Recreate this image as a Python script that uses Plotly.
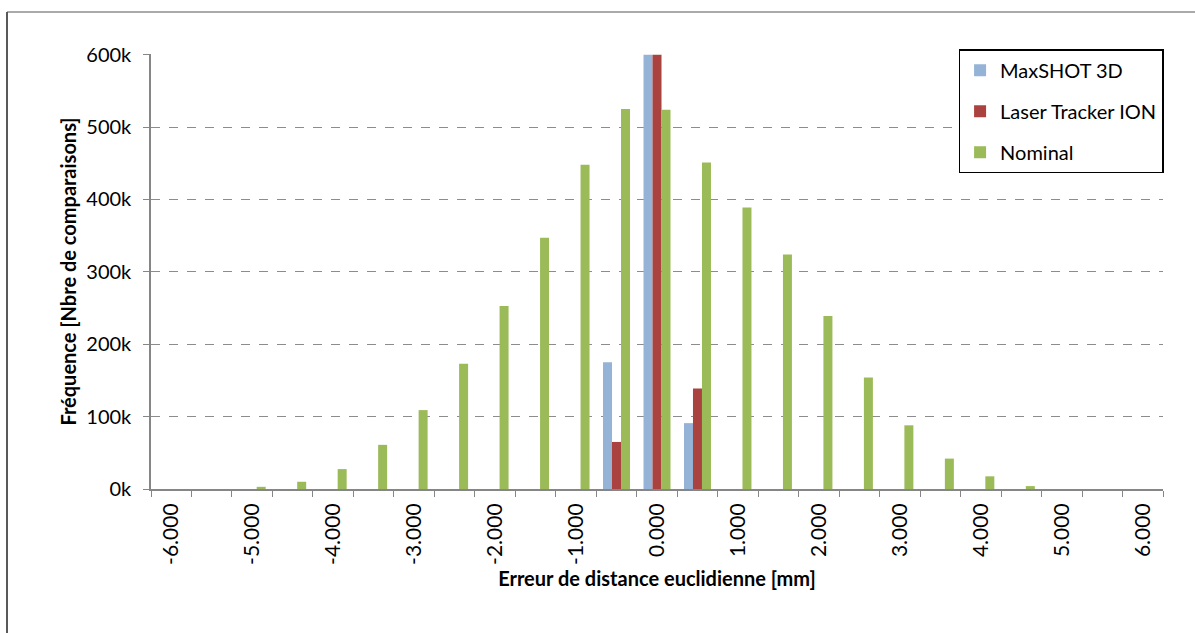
import plotly.graph_objects as go

categories = [-6.0, -5.5, -5.0, -4.5, -4.0, -3.5, -3.0, -2.5, -2.0, -1.5, -1.0, -0.5,
              0.0, 0.5, 1.0, 1.5, 2.0, 2.5, 3.0, 3.5, 4.0, 4.5, 5.0, 5.5, 6.0]
maxshot = [0, 0, 0, 0, 0, 0, 0, 0, 0, 0, 0, 175000,
           600000, 91000, 0, 0, 0, 0, 0, 0, 0, 0, 0, 0, 0]
tracker = [0, 0, 0, 0, 0, 0, 0, 0, 0, 0, 0, 65000,
           600000, 139000, 0, 0, 0, 0, 0, 0, 0, 0, 0, 0, 0]
nominal = [0, 0, 3000, 10000, 27500, 61000, 109000, 173000, 253000, 347000, 448000, 525000,
           524000, 451000, 389000, 324000, 239000, 154000, 88000, 42000, 17500, 4000, 0, 0, 0]
tick_vals = [-6, -5, -4, -3, -2, -1, 0, 1, 2, 3, 4, 5, 6]
tick_text = ["-6.000", "-5.000", "-4.000", "-3.000", "-2.000", "-1.000", "0.000",
             "1.000", "2.000", "3.000", "4.000", "5.000", "6.000"]
y_ticks = [0, 100000, 200000, 300000, 400000, 500000, 600000]
y_text = ["0k", "100k", "200k", "300k", "400k", "500k", "600k"]

FONT = "Lato"
fig = go.Figure()
series = [("MaxSHOT 3D", maxshot, "#95B3D7"),
          ("Laser Tracker ION", tracker, "#AA4340"),
          ("Nominal", nominal, "#9BBB59")]
for name, vals, col in series:
    fig.add_trace(go.Bar(x=categories, y=vals, name=name, legendgroup=name,
                         marker=dict(color=col, line=dict(width=0))))

fig.update_layout(
    width=1195, height=633,
    margin=dict(l=151, r=32, t=54, b=144),
    paper_bgcolor="white", plot_bgcolor="white",
    barmode="group", bargap=0.333, bargroupgap=0,
    font=dict(family=FONT, size=20, color="black"),
    showlegend=True,
    legend=dict(x=0.798, y=1.011, xanchor="left", yanchor="top",
                bordercolor="black", borderwidth=1.5, bgcolor="white",
                traceorder="grouped", tracegroupgap=12,
                font=dict(family=FONT, size=20),
                itemwidth=30, entrywidth=180, entrywidthmode="pixels"),
    xaxis=dict(range=[-6.25, 6.25], tickmode="array", tickvals=tick_vals, ticktext=tick_text,
               tickangle=-90, ticks="", showgrid=False, zeroline=False,
               showline=True, linecolor="#868686", linewidth=2,
               tickfont=dict(family=FONT, size=21), ticklabelstandoff=4,
               minor=dict(tick0=-6.25, dtick=0.5, ticks="outside", ticklen=6,
                          tickcolor="#868686", tickwidth=1, showgrid=False),
               title=dict(text="<b>Erreur de distance euclidienne [mm]</b>",
                          font=dict(family=FONT, size=20), standoff=8)),
    yaxis=dict(range=[0, 601000], tickmode="array", tickvals=y_ticks, ticktext=y_text,
               ticks="outside", ticklen=6, tickcolor="#868686",
               showgrid=True, gridcolor="#8c8c8c", griddash="dash", gridwidth=1,
               zeroline=False, showline=True, linecolor="#868686", linewidth=1.5,
               tickfont=dict(family=FONT, size=20), ticklabelstandoff=8,
               title=dict(text="<b>Fréquence [Nbre de comparaisons]</b>",
                          font=dict(family=FONT, size=20), standoff=4)),
)

# outer chart border (left and top edges visible in reference)
fig.add_shape(type="line", xref="paper", yref="paper",
              x0=(7 - 151) / 1012, x1=(7 - 151) / 1012, y0=(489 - 12) / 435, y1=(489 - 640) / 435,
              line=dict(color="#222222", width=1.5))
fig.add_shape(type="line", xref="paper", yref="paper",
              x0=(7 - 151) / 1012, x1=(1200 - 151) / 1012, y0=(489 - 12) / 435, y1=(489 - 12) / 435,
              line=dict(color="#555555", width=1))

fig.write_html("out.html")
